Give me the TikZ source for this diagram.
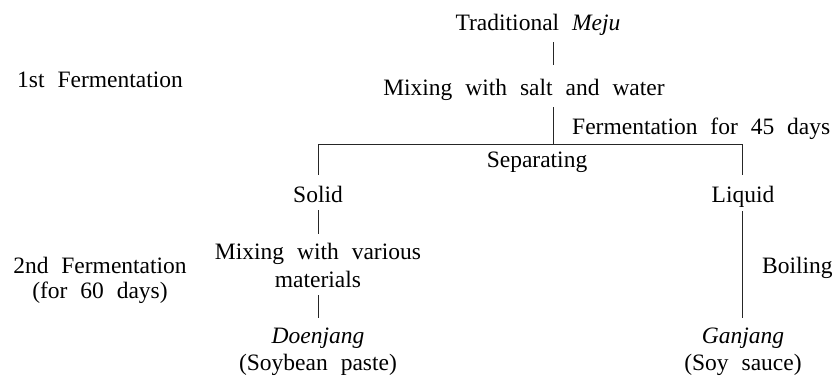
\documentclass[tikz,border=0pt]{standalone}
\usepackage{fontspec}
\setmainfont[WordSpace=2.2]{Liberation Serif}
\begin{document}
\begin{tikzpicture}[x=1pt,y=-1pt,
  lbl/.style={font=\fontsize{23.5}{28}\selectfont, inner sep=3pt, text height=16pt, text depth=5pt, anchor=base},
  conn/.style={draw=black!85, line width=0.9pt}]
\useasboundingbox (0,0) rectangle (835,376);
% left stage labels
\node[lbl] (first) at (100,87) {1st Fermentation};
\node[lbl] (second) at (100,273) {2nd Fermentation};
\node[lbl] (second2) at (100,298) {(for 60 days)};
% main chain
\node[lbl] (meju) at (538,30) {Traditional \textit{Meju}};
\node[lbl] (mixsalt) at (524,95) {Mixing with salt and water};
\node[lbl, anchor=base west] (ferm) at (569,134) {Fermentation for 45 days};
\coordinate (j) at (553,144);
\node[lbl] (sep) at (537,167) {Separating};
\node[lbl] (solid) at (318,202) {Solid};
\node[lbl] (liquid) at (743,202) {Liquid};
\node[lbl] (mixvar) at (318,259) {Mixing with various};
\node[lbl] (mat) at (318,287) {materials};
\node[lbl] (doen) at (318,343) {\textit{Doenjang}};
\node[lbl] (doen2) at (318,370) {(Soybean paste)};
\node[lbl] (gan) at (743,343) {\textit{Ganjang}};
\node[lbl] (gan2) at (743,370) {(Soy sauce)};
\node[lbl, anchor=base west] (boil) at (759,273) {Boiling};
% connectors
\draw[conn, shorten <=4pt, shorten >=11pt] (meju.south -| j) -- (mixsalt.north -| j);
\draw[conn, shorten <=4pt] (mixsalt.south -| j) -- (j);
\draw[conn] (solid.north |- j) -- ([xshift=-1pt]liquid.north |- j);
\draw[conn, shorten <=8pt] (solid.north) -- (solid.north |- j);
\draw[conn, shorten <=8pt] ([xshift=-1pt]liquid.north) -- ([xshift=-1pt]liquid.north |- j);
\draw[conn, shorten >=6pt] (solid.south) -- (mixvar.north);
\draw[conn, shorten >=6pt] (mat.south) -- (doen.north);
\draw[conn, shorten <=1pt, shorten >=6pt] ([xshift=-1pt]liquid.south) -- ([xshift=-1pt]gan.north);
\end{tikzpicture}
\end{document}
